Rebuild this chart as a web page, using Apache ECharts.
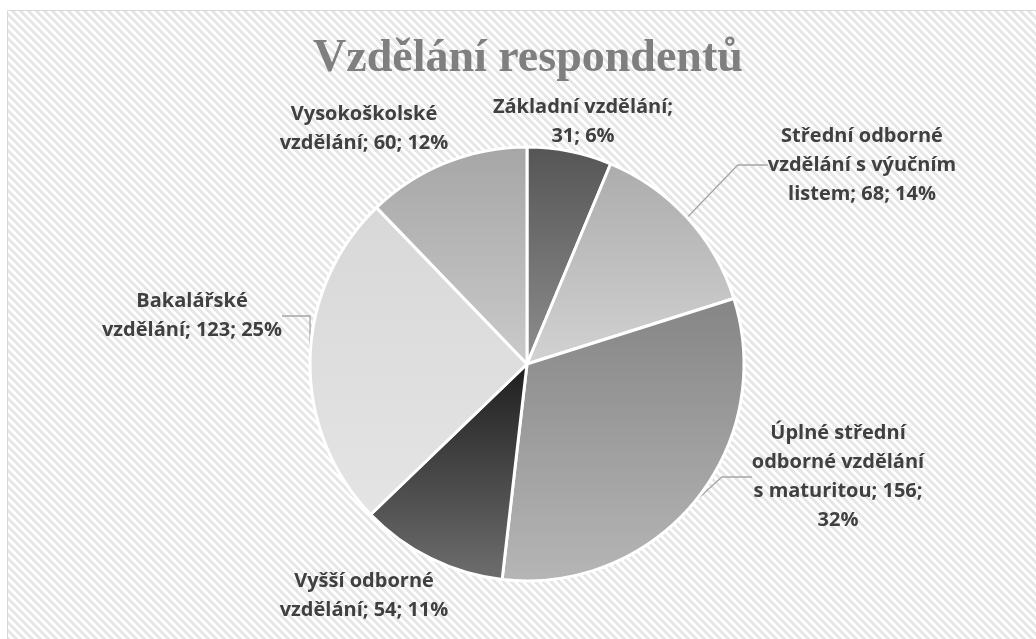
<!DOCTYPE html>
<html>
<head>
<meta charset="utf-8">
<script src="https://cdn.jsdelivr.net/npm/echarts@6/dist/echarts.min.js"></script>
<style>
    html, body { margin: 0; padding: 0; background: #fff; }
    #chart { width: 1036px; height: 639px; }
</style>
</head>
<body>
<div id="chart"></div>
<script>
// data
var categories = [
    'Základní vzdělání',
    'Střední odborné vzdělání s výučním listem',
    'Úplné střední odborné vzdělání s maturitou',
    'Vyšší odborné vzdělání',
    'Bakalářské vzdělání',
    'Vysokoškolské vzdělání'
];
var counts = [31, 68, 156, 54, 123, 60];

// slice gradients (top, bottom)
var sliceColors = [
    ['#555555', '#8e8e8e'],
    ['#acacac', '#d2d2d2'],
    ['#858585', '#b6b6b6'],
    ['#1e1e1e', '#6e6e6e'],
    ['#d8d8d8', '#e4e4e4'],
    ['#a6a6a6', '#cacaca']
];
// label placement: centre of text block, words per line, leader line
var labelPlaces = [
    { x: 583, y: 122, words: [2, 2], line: false },
    { x: 862, y: 165, words: [2, 3, 3], line: true },
    { x: 838, y: 477, words: [2, 2, 3, 1], line: true },
    { x: 364, y: 596, words: [2, 3], line: false },
    { x: 192, y: 316, words: [1, 3], line: true },
    { x: 364, y: 129, words: [1, 3], line: false }
];

// hatch pattern for the chart area
function hatch() {
    var c = document.createElement('canvas');
    c.width = 8; c.height = 8;
    var ctx = c.getContext('2d');
    var img = ctx.createImageData(8, 8);
    for (var y = 0; y < 8; y++) {
        for (var x = 0; x < 8; x++) {
            var on = ((x - y + 16) % 8) < 4;
            var v = on ? 230 : 255;
            var i = (y * 8 + x) * 4;
            img.data[i] = v; img.data[i + 1] = v; img.data[i + 2] = v; img.data[i + 3] = 255;
        }
    }
    ctx.putImageData(img, 0, 0);
    return c;
}

function wrapLabel(p) {
    var words = (p.name + '; ' + p.value + '; ' + p.percent + '%').split(' ');
    var counts = labelPlaces[p.dataIndex].words;
    var lines = [], k = 0;
    counts.forEach(function (n) {
        lines.push(words.slice(k, k + n).join(' '));
        k += n;
    });
    return lines.join('\n');
}

var pieData = categories.map(function (name, i) {
    return {
        name: name,
        value: counts[i],
        itemStyle: {
            color: {
                type: 'linear', x: 0, y: 0, x2: 0, y2: 1,
                colorStops: [
                    { offset: 0, color: sliceColors[i][0] },
                    { offset: 1, color: sliceColors[i][1] }
                ]
            }
        },
        labelLine: { show: labelPlaces[i].line }
    };
});

var option = {
    animation: false,
    backgroundColor: '#fff',
    graphic: [{
        type: 'rect',
        z: -10,
        shape: { x: 7.5, y: 10.5, width: 1040, height: 640 },
        style: {
            fill: { image: hatch(), repeat: 'repeat' },
            stroke: '#d9d9d9',
            lineWidth: 1
        },
        silent: true
    }],
    title: {
        text: 'Vzdělání respondentů',
        left: 308,
        top: 31,
        textStyle: {
            fontFamily: 'Liberation Serif',
            fontWeight: 'bold',
            fontSize: 46,
            color: '#7f7f7f'
        }
    },
    series: [{
        type: 'pie',
        center: [527, 364],
        radius: 217,
        startAngle: 90,
        clockwise: true,
        percentPrecision: 0,
        itemStyle: { borderColor: '#fff', borderWidth: 3 },
        label: {
            show: true,
            position: 'outside',
            formatter: wrapLabel,
            align: 'center',
            fontFamily: 'Open Sans',
            fontWeight: 'bold',
            fontSize: 20,
            lineHeight: 29,
            color: '#404040'
        },
        labelLine: {
            show: true,
            lineStyle: { color: '#a6a6a6', width: 1.3 }
        },
        labelLayout: function (p) {
            var lp = labelPlaces[p.dataIndex];
            return { x: lp.x, y: lp.y, align: 'center', verticalAlign: 'middle' };
        },
        data: pieData
    }]
};

var chart = echarts.init(document.getElementById('chart'));
chart.setOption(option);
</script>
</body>
</html>
